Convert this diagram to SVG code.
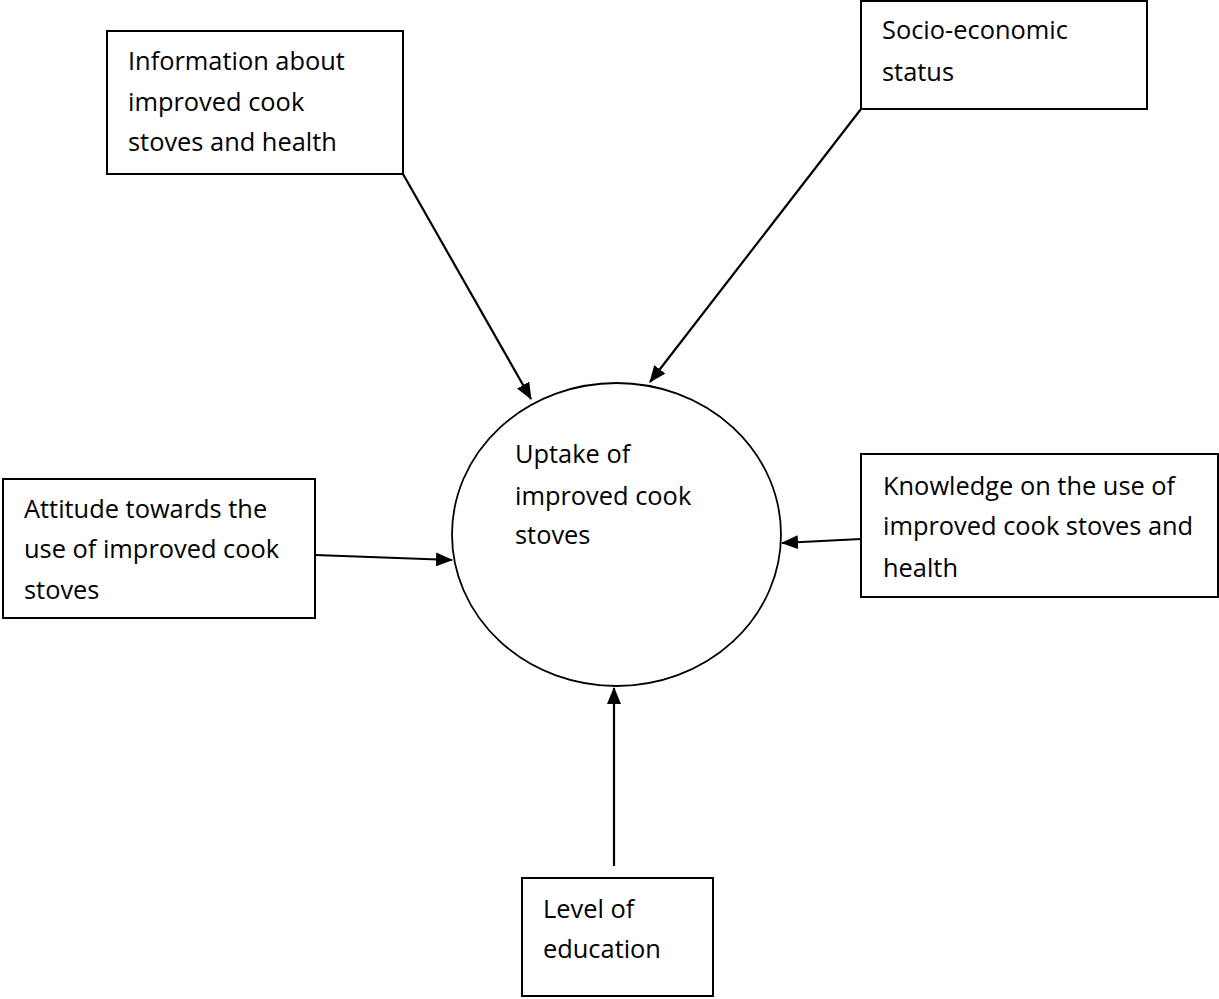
<svg xmlns="http://www.w3.org/2000/svg" width="1219" height="999" viewBox="0 0 1219 999">
<style>
.box{fill:#fff;stroke:#000;stroke-width:2}
.ell{fill:#fff;stroke:#000;stroke-width:1.8}
.t{font-family:"Open Sans","Liberation Sans",sans-serif;font-size:25.4px;fill:#000}
.c{stroke:#000;stroke-width:2.2;fill:none;marker-end:url(#ah)}
</style>
<defs>
<marker id="ah" markerUnits="userSpaceOnUse" markerWidth="17" markerHeight="14" refX="16" refY="7" orient="auto">
<path d="M0,0 L17,7 L0,14 Z" fill="#000"/>
</marker>
</defs>
<rect width="1219" height="999" fill="#fff"/>
<g id="connectors">
<line class="c" x1="403" y1="174" x2="531" y2="399"/>
<line class="c" x1="861" y1="109" x2="650" y2="382"/>
<line class="c" x1="315" y1="555" x2="452" y2="560"/>
<line class="c" x1="861" y1="539" x2="782" y2="543"/>
<line class="c" x1="614" y1="866" x2="614" y2="688"/>
</g>
<g id="uptake">
<ellipse class="ell" cx="616.5" cy="534.5" rx="164.5" ry="151.5"/>
<text class="t"><tspan x="515" y="463">Uptake of</tspan><tspan x="515" y="505">improved cook</tspan><tspan x="515" y="544">stoves</tspan></text>
</g>
<g id="information">
<rect class="box" x="107" y="31" width="296" height="143"/>
<text class="t"><tspan x="128" y="70">Information about</tspan><tspan x="128" y="111">improved cook</tspan><tspan x="128" y="151">stoves and health</tspan></text>
</g>
<g id="socioeconomic">
<rect class="box" x="861" y="1" width="286" height="108"/>
<text class="t"><tspan x="882" y="39">Socio-economic</tspan><tspan x="882" y="81">status</tspan></text>
</g>
<g id="attitude">
<rect class="box" x="3" y="479" width="312" height="139"/>
<text class="t"><tspan x="24" y="518">Attitude towards the</tspan><tspan x="24" y="558">use of improved cook</tspan><tspan x="24" y="599">stoves</tspan></text>
</g>
<g id="knowledge">
<rect class="box" x="861" y="454" width="357" height="143"/>
<text class="t"><tspan x="883" y="495">Knowledge on the use of</tspan><tspan x="883" y="535">improved cook stoves and</tspan><tspan x="883" y="577">health</tspan></text>
</g>
<g id="education">
<rect class="box" x="522" y="878" width="191" height="118"/>
<text class="t"><tspan x="543" y="918">Level of</tspan><tspan x="543" y="958">education</tspan></text>
</g>
</svg>
